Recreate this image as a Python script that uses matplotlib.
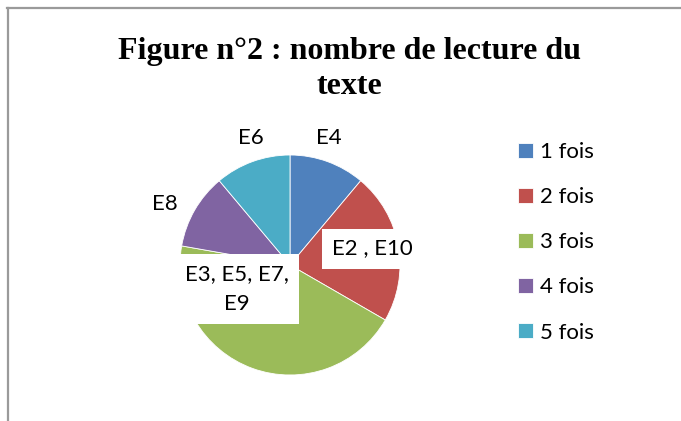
import matplotlib
matplotlib.use("Agg")
import matplotlib.pyplot as plt
from matplotlib.lines import Line2D

# nombre d'eleves par nombre de lectures
categories = ["1 fois", "2 fois", "3 fois", "4 fois", "5 fois"]
counts = [1, 2, 4, 1, 1]
students = ["E4", "E2 , E10", "E3, E5, E7,\nE9", "E8", "E6"]
colors = ["#4F81BD", "#C0504D", "#9BBB59", "#8064A2", "#4BACC6"]

W, H = 681, 421
fig = plt.figure(figsize=(W / 100, H / 100), dpi=100)

# cadre gris (haut + gauche)
fig.add_artist(Line2D([7 / W, 1], [1 - 8 / H, 1 - 8 / H], color="#9a9a9a", lw=1.6,
                      transform=fig.transFigure))
fig.add_artist(Line2D([8 / W, 8 / W], [0, 1 - 8 / H], color="#9a9a9a", lw=1.6,
                      transform=fig.transFigure))

fig.text(349 / W, 1 - 69 / H, "Figure n°2 : nombre de lecture du\ntexte",
         ha="center", va="center", family="Liberation Serif", weight="bold",
         fontsize=23, linespacing=1.25)

cx, cy, r = 290, 265, 110
ax = fig.add_axes([(cx - r) / W, (H - cy - r) / H, 2 * r / W, 2 * r / H])
wedges, _ = ax.pie(counts, colors=colors, startangle=90, counterclock=False,
                   wedgeprops=dict(linewidth=0.6, edgecolor="white"))
ax.set_xlim(-1, 1)
ax.set_ylim(-1, 1)
ax.set_aspect("equal")
ax.axis("off")

# positions des etiquettes (rayon = 1)
label_pos = [(0.35, 1.15), (0.75, 0.15), (-0.48, -0.22), (-1.14, 0.55), (-0.36, 1.15)]
boxed = [False, True, True, False, False]
for txt, (x, y), b in zip(students, label_pos, boxed):
    kw = {}
    if b:
        kw["bbox"] = dict(boxstyle="square,pad=0.45", fc="white", ec="none")
    ax.text(x, y, txt, ha="center", va="center", family="Lato", fontsize=16,
            linespacing=1.6, clip_on=False, **kw)

fig.legend(wedges, categories, loc="upper left", bbox_to_anchor=(507 / W, 1 - 131 / H),
           frameon=False, prop=dict(family="Lato", size=16), handlelength=0.68,
           handleheight=0.68, handletextpad=0.3, labelspacing=1.13, borderpad=0)

fig.savefig("out.png", dpi=100)
